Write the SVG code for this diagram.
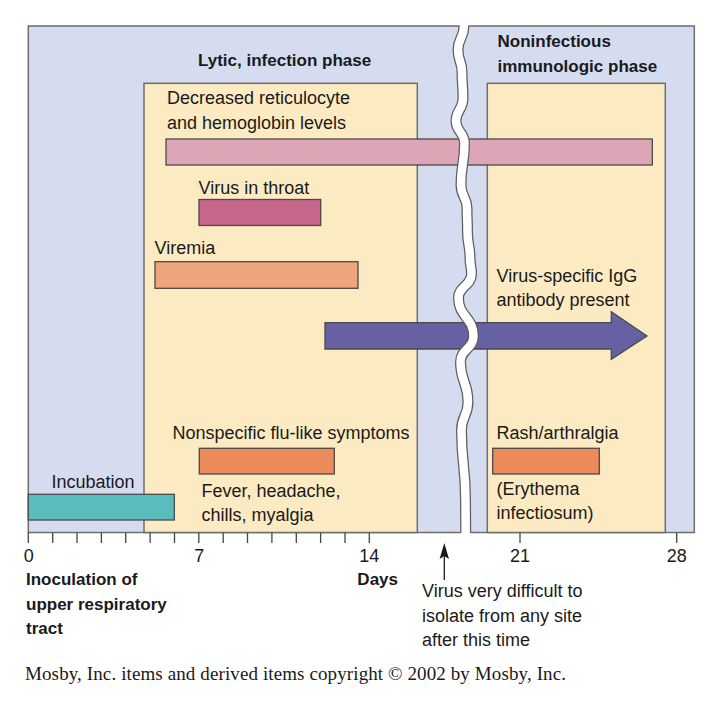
<svg xmlns="http://www.w3.org/2000/svg" width="725" height="706" viewBox="0 0 725 706">
<style>
.t{font-family:"Liberation Sans",Arial,sans-serif;font-size:18px;fill:#1a1a1a}
.b{font-family:"Liberation Sans",Arial,sans-serif;font-size:17px;font-weight:bold;fill:#1a1a1a}
.bar{stroke:#4a4a4a;stroke-width:1.3}
.box{fill:#fcebc2;stroke:#6e6e6e;stroke-width:1.5}
.tick{stroke:#444;stroke-width:1.3}
.c{text-anchor:middle}
</style>
<rect width="725" height="706" fill="#fff"/>
<g id="background">
<rect x="28.3" y="26" width="666" height="506.5" fill="#d6dcf0" stroke="#6e6e6e" stroke-width="1.5"/>
</g>
<g id="lytic-phase">
<rect class="box" x="144" y="83.3" width="273.3" height="449.2"/>
<text class="b" x="198" y="66">Lytic, infection phase</text>
</g>
<g id="noninfectious-phase">
<rect class="box" x="487.3" y="83.3" width="178" height="449.2"/>
<text class="b" x="497.5" y="47">Noninfectious</text>
<text class="b" x="497.5" y="72">immunologic phase</text>
</g>
<g id="reticulocyte">
<text class="t" x="167" y="104">Decreased reticulocyte</text>
<text class="t" x="167" y="128.5">and hemoglobin levels</text>
<rect class="bar" x="166" y="139" width="486.3" height="26" fill="#dca6b7"/>
</g>
<g id="virus-throat">
<text class="t" x="198.5" y="194">Virus in throat</text>
<rect class="bar" x="199" y="199.5" width="121.7" height="26" fill="#c6668a"/>
</g>
<g id="viremia">
<text class="t" x="154.5" y="254">Viremia</text>
<rect class="bar" x="155" y="261.7" width="203" height="26.6" fill="#efa57b"/>
</g>
<g id="igg">
<text class="t" x="496.5" y="282">Virus-specific IgG</text>
<text class="t" x="496.5" y="306">antibody present</text>
<polygon class="bar" points="325,322.7 611.3,322.7 611.3,311.7 647,336 611.3,359.3 611.3,349 325,349" fill="#6561a3"/>
</g>
<g id="flu-symptoms">
<text class="t" x="172.5" y="439">Nonspecific flu-like symptoms</text>
<rect class="bar" x="199.3" y="448.3" width="135" height="25.7" fill="#eb8a5a"/>
<text class="t" x="201.5" y="497">Fever, headache,</text>
<text class="t" x="201.5" y="521">chills, myalgia</text>
</g>
<g id="incubation">
<text class="t" x="51.5" y="488">Incubation</text>
<rect class="bar" x="28.3" y="494.3" width="146" height="25.7" fill="#5bbcbd"/>
</g>
<g id="rash">
<text class="t" x="496.5" y="439">Rash/arthralgia</text>
<rect class="bar" x="492.7" y="448.3" width="106.6" height="25.7" fill="#eb8a5a"/>
<text class="t" x="496.5" y="495">(Erythema</text>
<text class="t" x="496.5" y="519">infectiosum)</text>
</g>
<g id="break">
<path d="M464,26 C464,38 458,38 458,50 C458,61 462,61 462,72 C462,85 463,85 463,98 C463,110 456,110 456,121 C456,132 464.5,132 464.5,143 C464.5,164 461,164 461,185 C461,197 467,197 467,208 C467,220 467.5,220 467.5,232 C467.5,245 470,245 470,258 C470,266 471.5,266 471.5,274 C471.5,286 458.5,286 458.5,298 C458.5,317 473.5,317 473.5,336 C473.5,349 460.5,349 460.5,362 C460.5,382 468,382 468,402 C468,416 461.5,416 461.5,430 C461.5,465 465.5,465 465.5,500 C465.5,516 465.7,516 465.7,532" fill="none" stroke="#5e5e5e" stroke-width="11"/>
<path d="M464,18 L464,26 C464,38 458,38 458,50 C458,61 462,61 462,72 C462,85 463,85 463,98 C463,110 456,110 456,121 C456,132 464.5,132 464.5,143 C464.5,164 461,164 461,185 C461,197 467,197 467,208 C467,220 467.5,220 467.5,232 C467.5,245 470,245 470,258 C470,266 471.5,266 471.5,274 C471.5,286 458.5,286 458.5,298 C458.5,317 473.5,317 473.5,336 C473.5,349 460.5,349 460.5,362 C460.5,382 468,382 468,402 C468,416 461.5,416 461.5,430 C461.5,465 465.5,465 465.5,500 C465.5,516 465.7,516 465.7,532 L465.7,540" fill="none" stroke="#fff" stroke-width="8.5"/>
</g>
<g id="axis">
<g class="tick">
<line x1="28.3" y1="532.5" x2="28.3" y2="543"/>
<line x1="52.7" y1="532.5" x2="52.7" y2="543"/>
<line x1="77" y1="532.5" x2="77" y2="543"/>
<line x1="101.4" y1="532.5" x2="101.4" y2="543"/>
<line x1="125.7" y1="532.5" x2="125.7" y2="543"/>
<line x1="150.1" y1="532.5" x2="150.1" y2="543"/>
<line x1="174.5" y1="532.5" x2="174.5" y2="543"/>
<line x1="198.8" y1="532.5" x2="198.8" y2="543"/>
<line x1="223.2" y1="532.5" x2="223.2" y2="543"/>
<line x1="247.5" y1="532.5" x2="247.5" y2="543"/>
<line x1="271.9" y1="532.5" x2="271.9" y2="543"/>
<line x1="296.3" y1="532.5" x2="296.3" y2="543"/>
<line x1="320.6" y1="532.5" x2="320.6" y2="543"/>
<line x1="345" y1="532.5" x2="345" y2="543"/>
<line x1="369.3" y1="532.5" x2="369.3" y2="543"/>
<line x1="520" y1="532.5" x2="520" y2="543"/>
<line x1="676.7" y1="532.5" x2="676.7" y2="543"/>
</g>
<text class="t c" x="28.7" y="561.5">0</text>
<text class="t c" x="199.3" y="561.5">7</text>
<text class="t c" x="369.3" y="561.5">14</text>
<text class="t c" x="520" y="561.5">21</text>
<text class="t c" x="676.7" y="561.5">28</text>
<text class="b" x="398" y="585" text-anchor="end">Days</text>
<text class="b" x="26" y="585">Inoculation of</text>
<text class="b" x="26" y="610">upper respiratory</text>
<text class="b" x="26" y="634">tract</text>
</g>
<g id="connectors">
<line x1="444.3" y1="552" x2="444.3" y2="580" stroke="#1a1a1a" stroke-width="1.3"/>
<polygon points="444.3,543 449,559 444.3,556 439.6,559" fill="#1a1a1a"/>
</g>
<g id="annotation">
<text class="t" x="422" y="597">Virus very difficult to</text>
<text class="t" x="422" y="622">isolate from any site</text>
<text class="t" x="422" y="646">after this time</text>
</g>
<text x="25" y="680" font-family="'Liberation Serif','Times New Roman',serif" font-size="19" textLength="541" fill="#1a1a1a">Mosby, Inc. items and derived items copyright © 2002 by Mosby, Inc.</text>
</svg>
